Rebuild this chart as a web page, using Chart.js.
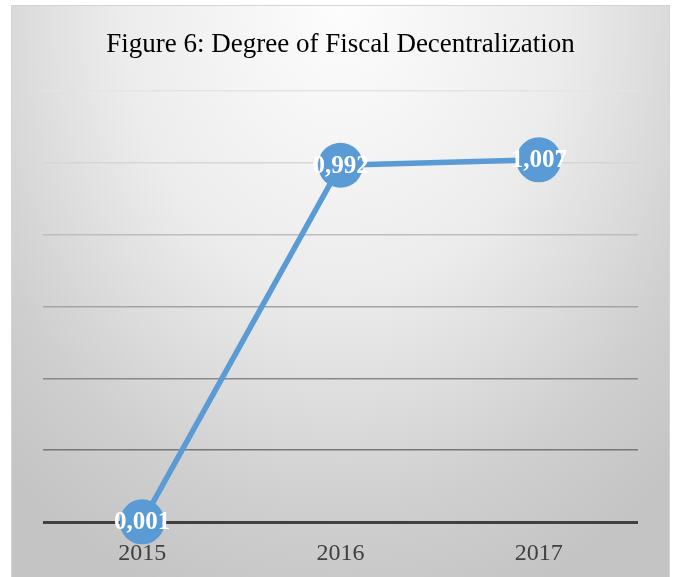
<!DOCTYPE html>
<html>
<head>
<meta charset="utf-8">
<script src="https://cdn.jsdelivr.net/npm/chart.js@4"></script>
<style>
    body { margin: 0; background: #fff; overflow: hidden; }
    #box {
        position: absolute;
        left: 11px;
        top: 5px;
        width: 657px;
        height: 572px;
        border: 1px solid #d4d4d4;
        border-bottom: none;
        overflow: hidden;
        background: radial-gradient(ellipse 75% 110% at 50% 0%, #fdfdfd 0%, #ececec 45%, #cfcfcf 80%, #c4c4c4 100%);
    }
</style>
</head>
<body>
<div id="box"><canvas id="fiscalChart" width="657" height="579"></canvas></div>
<script>
const years = ["2015", "2016", "2017"];
const degreeValues = [0.001, 0.992, 1.007];
const yTicks = [0, 0.2, 0.4, 0.6, 0.8, 1.0, 1.2];
const gridColors = ["#404040", "#777777", "#888888", "#a3a3a3", "#bdbdbd", "#d6d6d6", "#e4e4e4"];

// write the value (with comma) in the middle of each marker
const pointLabels = {
    id: 'pointLabels',
    afterDatasetsDraw(chart) {
        const ctx = chart.ctx;
        const meta = chart.getDatasetMeta(0);
        ctx.save();
        ctx.font = 'bold 25px "Liberation Serif", "Times New Roman", serif';
        ctx.fillStyle = '#ffffff';
        ctx.textAlign = 'center';
        ctx.textBaseline = 'middle';
        meta.data.forEach((pt, i) => {
            const txt = degreeValues[i].toFixed(3).replace('.', ',');
            ctx.fillText(txt, pt.x, pt.y + 1);
        });
        ctx.restore();
    }
};

new Chart("fiscalChart", {
    type: 'line',
    data: {
        labels: years,
        datasets: [{
            data: degreeValues,
            borderColor: '#5b9bd5',
            borderWidth: 5.5,
            backgroundColor: '#5b9bd5',
            pointRadius: 22.5,
            pointHoverRadius: 22.5,
            pointBorderWidth: 0,
            tension: 0,
            clip: false
        }]
    },
    options: {
        responsive: false,
        animation: false,
        devicePixelRatio: 1,
        layout: { padding: { left: 31, right: 31, top: 0, bottom: 0 } },
        plugins: {
            legend: { display: false },
            tooltip: { enabled: false },
            title: {
                display: true,
                text: 'Figure 6: Degree of Fiscal Decentralization',
                color: '#000000',
                font: { family: '"Liberation Serif", "Times New Roman", serif', size: 27, weight: 'normal' },
                padding: { top: 23, bottom: 29 }
            }
        },
        scales: {
            x: {
                offset: true,
                grid: { display: false, drawTicks: false },
                border: { display: false },
                ticks: {
                    color: '#404040',
                    padding: 17,
                    font: { family: '"Liberation Serif", "Times New Roman", serif', size: 24 }
                }
            },
            y: {
                min: 0,
                max: 1.2,
                afterBuildTicks: axis => { axis.ticks = yTicks.map(v => ({ value: v })); },
                ticks: { display: false },
                border: { display: false },
                grid: {
                    drawTicks: false,
                    color: c => gridColors[c.index] || '#d9d9d9',
                    lineWidth: c => c.index === 0 ? 3 : 1.5
                }
            }
        }
    },
    plugins: [pointLabels]
});
</script>
</body>
</html>
